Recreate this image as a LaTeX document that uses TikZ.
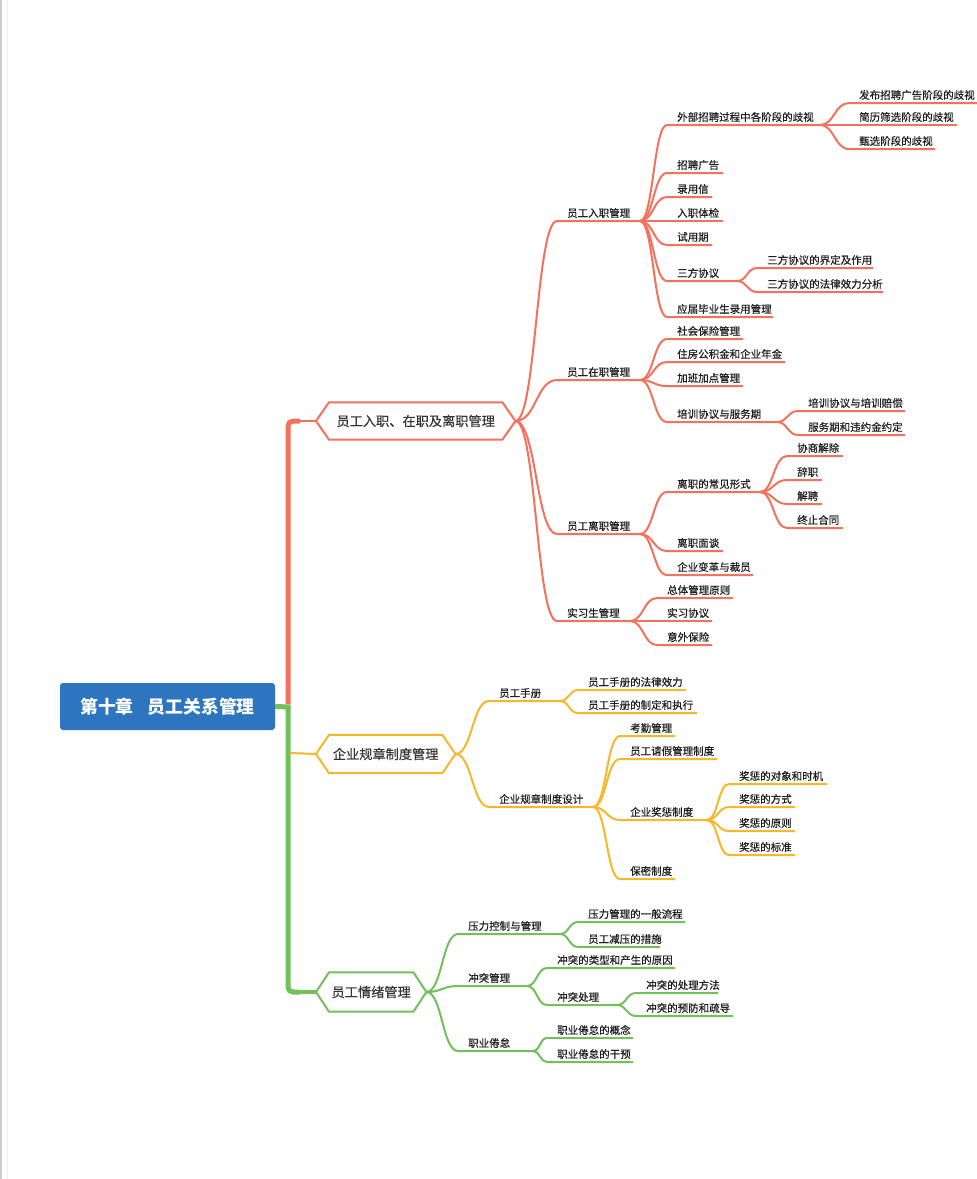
\documentclass[tikz,border=0pt]{standalone}
\usepackage{fontspec}
\setmainfont{Noto Sans CJK SC}
\newfontfamily\semib[FakeBold=0.45]{Noto Sans CJK SC}
\usetikzlibrary{calc}
\definecolor{cR}{HTML}{F4715E}
\definecolor{cY}{HTML}{F6B82A}
\definecolor{cG}{HTML}{72C05A}
\definecolor{cB}{HTML}{2E75C0}
\definecolor{txt}{HTML}{1E1E1E}
\tikzset{
  leaf/.style={anchor=west, inner sep=0pt, text=txt, font=\semib\fontsize{10.5}{12}\selectfont},
  rl/.style={draw=cR, line width=2pt},
  yl/.style={draw=cY, line width=2pt},
  gl/.style={draw=cG, line width=2pt},
  hexlbl/.style={anchor=west, inner sep=0pt, minimum height=38pt, text=txt!90, font=\semib\fontsize{13.2}{15}\selectfont},
  hexline/.style={line width=2pt, fill=white},
  rootbox/.style={fill=cB, rounded corners=3pt, minimum width=215pt, minimum height=47pt, inner sep=0pt, text=white, font=\bfseries\fontsize{17.8}{20}\selectfont},
}
\newcommand\mmleaf[7]{%
  \node[leaf] (#1) at (#3,#4) {#6};
  \coordinate (#1-s) at (#3-10,#4+8);
  \coordinate (#1-e) at (#5,#4+8);
  \draw[#7] let \p1=(#2), \p2=(#1-s) in (#2) .. controls ({0.5*\x1+0.5*\x2},\y1) and ({0.5*\x1+0.5*\x2},\y2) .. (#1-s) -- (#1-e);
}
\newcommand\mmhex[4]{% name, color, text, width
  \path (#1.west) ++(-13pt,0) coordinate (#1-l);
  \path (#1.east) ++(13pt,0) coordinate (#1-r);
  \draw[hexline, draw=#2] (#1-l) -- (#1.north west) -- (#1.north east) -- (#1-r) -- (#1.south east) -- (#1.south west) -- cycle;
  \node[hexlbl, minimum width=#4pt] at (#1.west) {#3};
}
\begin{document}
\begin{tikzpicture}[x=1pt,y=-1pt]
\useasboundingbox (0,0) rectangle (977,1179);
\fill[white] (0,0) rectangle (977,1179);
\draw[black!20, line width=2pt] (1,0) -- (1,1179);
\draw[black!6, line width=1pt] (7,0) -- (7,1179);

% root
\node[rootbox] (root) at (167.5,706.5) {第十章\hspace{0.8em}员工关系管理};

% level-1 hexagon anchors
\path (329,421) node[anchor=west, minimum width=173pt, minimum height=37pt, inner sep=0pt] (hxA) {};
\path (329,754) node[anchor=west, minimum width=113pt, minimum height=38pt, inner sep=0pt] (hxB) {};
\path (329,992) node[anchor=west, minimum width=84pt, minimum height=39pt, inner sep=0pt] (hxC) {};
\path (hxA.west) ++(-13pt,0) coordinate (hxA-l);
\path (hxB.west) ++(-13pt,0) coordinate (hxB-l);
\path (hxC.west) ++(-13pt,0) coordinate (hxC-l);

% trunk
\coordinate (jR) at (288,704);
\coordinate (jRt) at (300,421);
\coordinate (jG) at (288,707);
\coordinate (jGb) at (300,992);
\coordinate (jY) at (290,753);
\draw[cR, line width=5pt, rounded corners=5pt] (jR) |- (jRt);
\draw[cR, line width=2.5pt] (296,421) -- (hxA-l);
\draw[cG, line width=5pt] (root.east) -- (290.5,707);
\draw[cG, line width=5pt, rounded corners=5pt] (jG) |- (jGb);
\draw[cG, line width=3.5pt] (296,992) -- (hxC-l);
\draw[cY, line width=2pt] (jY) -- (hxB-l);

\mmhex{hxA}{cR}{员工入职、在职及离职管理}{173}
\mmhex{hxB}{cY}{企业规章制度管理}{113}
\mmhex{hxC}{cG}{员工情绪管理}{84}

% ---------- red branch
\mmleaf{a}{hxA-r}{567}{213}{640}{员工入职管理}{rl}
\mmleaf{a1}{a-e}{677}{117}{820}{外部招聘过程中各阶段的歧视}{rl}
\mmleaf{a11}{a1-e}{859}{95}{977}{发布招聘广告阶段的歧视}{rl}
\mmleaf{a12}{a1-e}{859}{117}{957}{简历筛选阶段的歧视}{rl}
\mmleaf{a13}{a1-e}{859}{141}{935}{甄选阶段的歧视}{rl}
\mmleaf{a2}{a-e}{677}{165}{723}{招聘广告}{rl}
\mmleaf{a3}{a-e}{677}{189}{712}{录用信}{rl}
\mmleaf{a4}{a-e}{677}{213}{723}{入职体检}{rl}
\mmleaf{a5}{a-e}{677}{237}{712}{试用期}{rl}
\mmleaf{a6}{a-e}{677}{273}{737}{三方协议}{rl}
\mmleaf{a61}{a6-e}{767}{260}{873}{三方协议的界定及作用}{rl}
\mmleaf{a62}{a6-e}{767}{284}{883}{三方协议的法律效力分析}{rl}
\mmleaf{a7}{a-e}{677}{309}{773}{应届毕业生录用管理}{rl}

\mmleaf{b}{hxA-r}{567}{372}{640}{员工在职管理}{rl}
\mmleaf{b1}{b-e}{677}{331}{743}{社会保险管理}{rl}
\mmleaf{b2}{b-e}{677}{354}{785}{住房公积金和企业年金}{rl}
\mmleaf{b3}{b-e}{677}{378}{743}{加班加点管理}{rl}
\mmleaf{b4}{b-e}{677}{414}{777}{培训协议与服务期}{rl}
\mmleaf{b41}{b4-e}{808}{403}{905}{培训协议与培训赔偿}{rl}
\mmleaf{b42}{b4-e}{808}{427}{905}{服务期和违约金约定}{rl}

\mmleaf{c}{hxA-r}{567}{526}{640}{员工离职管理}{rl}
\mmleaf{c1}{c-e}{677}{484}{760}{离职的常见形式}{rl}
\mmleaf{c11}{c1-e}{797}{448}{843}{协商解除}{rl}
\mmleaf{c12}{c1-e}{797}{472}{822}{辞职}{rl}
\mmleaf{c13}{c1-e}{797}{496}{822}{解聘}{rl}
\mmleaf{c14}{c1-e}{797}{520}{843}{终止合同}{rl}
\mmleaf{c2}{c-e}{677}{543}{723}{离职面谈}{rl}
\mmleaf{c3}{c-e}{677}{567}{753}{企业变革与裁员}{rl}

\mmleaf{d}{hxA-r}{567}{613}{630}{实习生管理}{rl}
\mmleaf{d1}{d-e}{667}{590}{733}{总体管理原则}{rl}
\mmleaf{d2}{d-e}{667}{613}{712}{实习协议}{rl}
\mmleaf{d3}{d-e}{667}{637}{712}{意外保险}{rl}

% ---------- yellow branch
\mmleaf{e}{hxB-r}{499}{693}{560}{员工手册}{yl}
\mmleaf{e1}{e-e}{588}{682}{686}{员工手册的法律效力}{yl}
\mmleaf{e2}{e-e}{588}{705}{697}{员工手册的制定和执行}{yl}
\mmleaf{f}{hxB-r}{499}{799}{593}{企业规章制度设计}{yl}
\mmleaf{f1}{f-e}{630}{728}{675}{考勤管理}{yl}
\mmleaf{f2}{f-e}{630}{751}{717}{员工请假管理制度}{yl}
\mmleaf{f3}{f-e}{630}{812}{707}{企业奖惩制度}{yl}
\mmleaf{f31}{f3-e}{739}{776}{827}{奖惩的对象和时机}{yl}
\mmleaf{f32}{f3-e}{739}{799}{795}{奖惩的方式}{yl}
\mmleaf{f33}{f3-e}{739}{823}{795}{奖惩的原则}{yl}
\mmleaf{f34}{f3-e}{739}{847}{795}{奖惩的标准}{yl}
\mmleaf{f4}{f-e}{630}{871}{675}{保密制度}{yl}

% ---------- green branch
\mmleaf{g}{hxC-r}{468}{926}{560}{压力控制与管理}{gl}
\mmleaf{g1}{g-e}{588}{914}{685}{压力管理的一般流程}{gl}
\mmleaf{g2}{g-e}{588}{939}{660}{员工减压的措施}{gl}
\mmleaf{h}{hxC-r}{468}{978}{527}{冲突管理}{gl}
\mmleaf{hh1}{h-e}{557}{960}{675}{冲突的类型和产生的原因}{gl}
\mmleaf{hh2}{h-e}{557}{997}{617}{冲突处理}{gl}
\mmleaf{hh21}{hh2-e}{646}{985}{718}{冲突的处理方法}{gl}
\mmleaf{hh22}{hh2-e}{646}{1008}{733}{冲突的预防和疏导}{gl}
\mmleaf{ii}{hxC-r}{468}{1043}{533}{职业倦怠}{gl}
\mmleaf{ii1}{ii-e}{557}{1030}{633}{职业倦怠的概念}{gl}
\mmleaf{ii2}{ii-e}{557}{1054}{633}{职业倦怠的干预}{gl}
\end{tikzpicture}
\end{document}
